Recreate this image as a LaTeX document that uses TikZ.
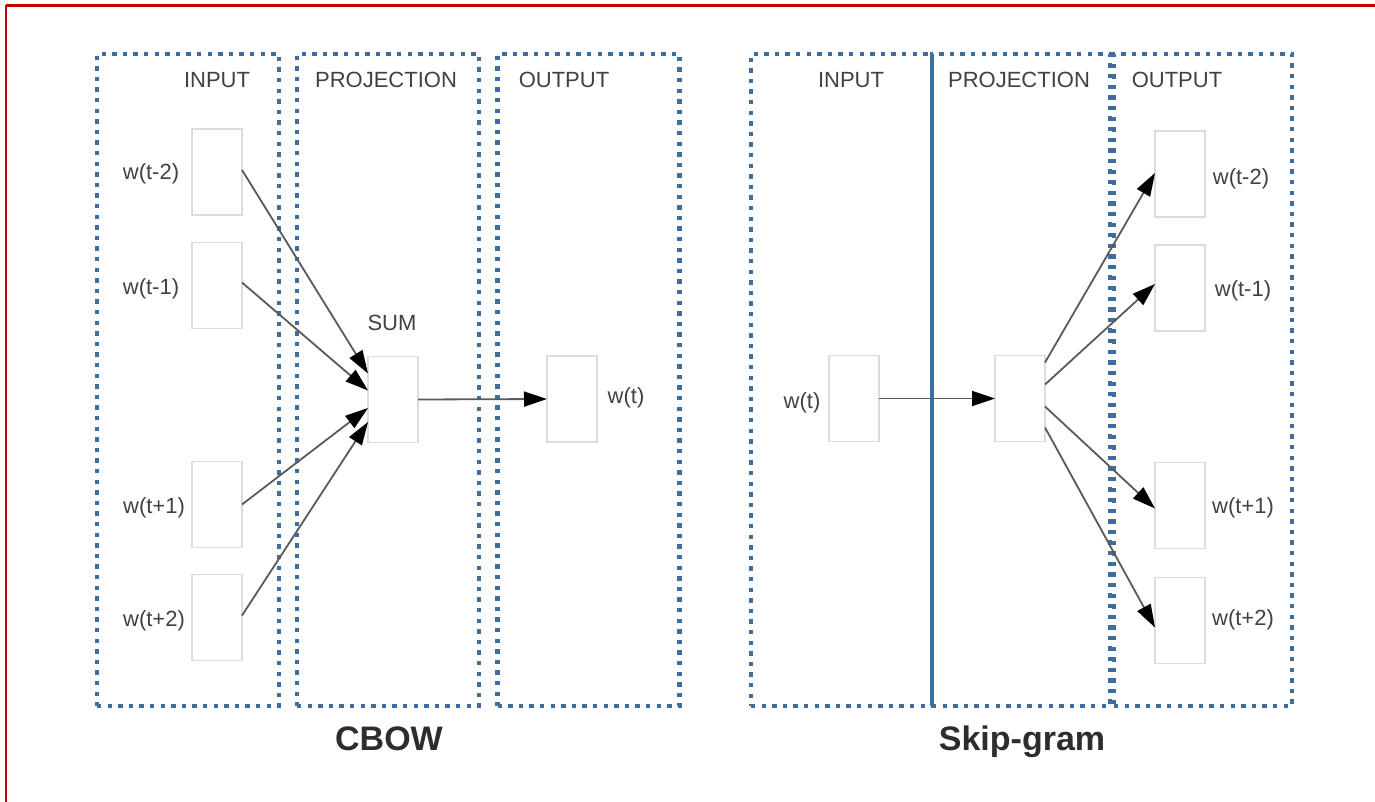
\documentclass[tikz,border=0pt]{standalone}
\usepackage{fontspec}
\setmainfont{Liberation Sans}
\usetikzlibrary{arrows.meta,calc}
\definecolor{panelblue}{RGB}{62,110,160}
\definecolor{framered}{RGB}{196,0,0}
\definecolor{boxgray}{RGB}{220,220,220}
\definecolor{linkgray}{RGB}{90,90,90}
\definecolor{txtgray}{RGB}{65,65,65}
\definecolor{titlegray}{RGB}{45,45,45}

\begin{document}
\begin{tikzpicture}[x=1pt,y=-1pt,
  panel/.style={draw=panelblue, line width=4.4pt, dash pattern=on 4.4pt off 6.2pt,
    inner sep=0pt, outer sep=0pt},
  unitbox/.style={draw=boxgray, line width=1.6pt, fill=white,
    minimum width=50pt, minimum height=86pt, inner sep=0pt, outer sep=0pt},
  head/.style={font=\fontsize{22}{26}\selectfont, text=txtgray,
    text height=15.8pt, text depth=0pt, inner sep=0pt},
  title/.style={font=\bfseries\fontsize{34}{40}\selectfont, text=titlegray,
    text height=24.4pt, text depth=0pt, inner sep=0pt},
  link/.style={draw=linkgray, line width=1.8pt,
    -{Triangle[length=23pt,width=15pt,color=black]}},
]
\useasboundingbox (0,0) rectangle (1375,802);
\fill[white] (0,0) rectangle (1375,802);

% frame edges
\draw[framered, line width=2.6pt] (5.5,5.5) -- (1375,5.5);
\draw[framered, line width=2.6pt] (6,5.5) -- (6,802);

% ---------- CBOW ----------
\node[panel, minimum width=182pt, minimum height=652pt] (cin)   at (188,380) {};
\node[panel, minimum width=182pt, minimum height=652pt] (cproj) at (388,380) {};
\node[panel, minimum width=182pt, minimum height=652pt] (cout)  at (588.5,380) {};

\node[head] (cinlbl)   at (217,80) {INPUT};
\node[head] (cprojlbl) at (386,80) {PROJECTION};
\node[head] (coutlbl)  at (564,80) {OUTPUT};

\node[unitbox] (cw1) at (217,172) {};
\node[unitbox] (cw2) at (217,285.5) {};
\node[unitbox] (cw3) at (217,504.5) {};
\node[unitbox] (cw4) at (217,617.5) {};
\node[unitbox] (csum) at (393,399.5) {};
\node[unitbox] (cwt)  at (572,399) {};

\node[head] (cw1lbl) at (151,172) {w(t-2)};
\node[head] (cw2lbl) at (151,287) {w(t-1)};
\node[head] (cw3lbl) at (154,506) {w(t+1)};
\node[head] (cw4lbl) at (154,619) {w(t+2)};
\node[head] (csumlbl) at (392,323) {SUM};
\node[head] (cwtlbl) at (626,396) {w(t)};

\draw[link] ($(cw1.east)+(0,-2)$) -- ($(csum.west)+(0,-26)$);
\draw[link] ($(cw2.east)+(0,-3)$) -- ($(csum.west)+(0,-9)$);
\draw[link] (cw3.east) -- ($(csum.west)+(0,8.5)$);
\draw[link] ($(cw4.east)+(0,-2)$) -- ($(csum.west)+(0,22.5)$);
\draw[link] (csum.east) -- (cwt.west);

\node[title] (cbow) at (389,738) {CBOW};

% ---------- Skip-gram ----------
\node[panel, minimum width=181pt, minimum height=652pt] (sin)   at (841.5,380) {};
\node[panel, minimum width=178pt, minimum height=652pt] (sproj) at (1021,380) {};
\node[panel, minimum width=178pt, minimum height=652pt] (sout)  at (1203,380) {};
\draw[panelblue, line width=4pt] (sin.north east) -- (sin.south east);

\node[head] (sinlbl)   at (851,80) {INPUT};
\node[head] (sprojlbl) at (1019,80) {PROJECTION};
\node[head] (soutlbl)  at (1177,80) {OUTPUT};

\node[unitbox] (swt)   at (854,398.5) {};
\node[unitbox] (sproj1) at (1020,398.5) {};
\node[unitbox] (sw1) at (1180,174) {};
\node[unitbox] (sw2) at (1180,288) {};
\node[unitbox] (sw3) at (1180,505.5) {};
\node[unitbox] (sw4) at (1180,620.5) {};

\node[head] (swtlbl) at (802,401) {w(t)};
\node[head] (sw1lbl) at (1241,177) {w(t-2)};
\node[head] (sw2lbl) at (1243,289) {w(t-1)};
\node[head] (sw3lbl) at (1243,506) {w(t+1)};
\node[head] (sw4lbl) at (1243,618) {w(t+2)};

\draw[link] (swt.east) -- (sproj1.west);
\draw[link] ($(sproj1.east)+(0,-36)$) -- ($(sw1.west)+(0,-1)$);
\draw[link] ($(sproj1.east)+(0,-14)$) -- ($(sw2.west)+(0,-4)$);
\draw[link] ($(sproj1.east)+(0,8)$) -- ($(sw3.west)+(0,3)$);
\draw[link] ($(sproj1.east)+(0,29)$) -- ($(sw4.west)+(0,7)$);

\node[title] (skip) at (1022,738) {Skip-gram};
\end{tikzpicture}
\end{document}
